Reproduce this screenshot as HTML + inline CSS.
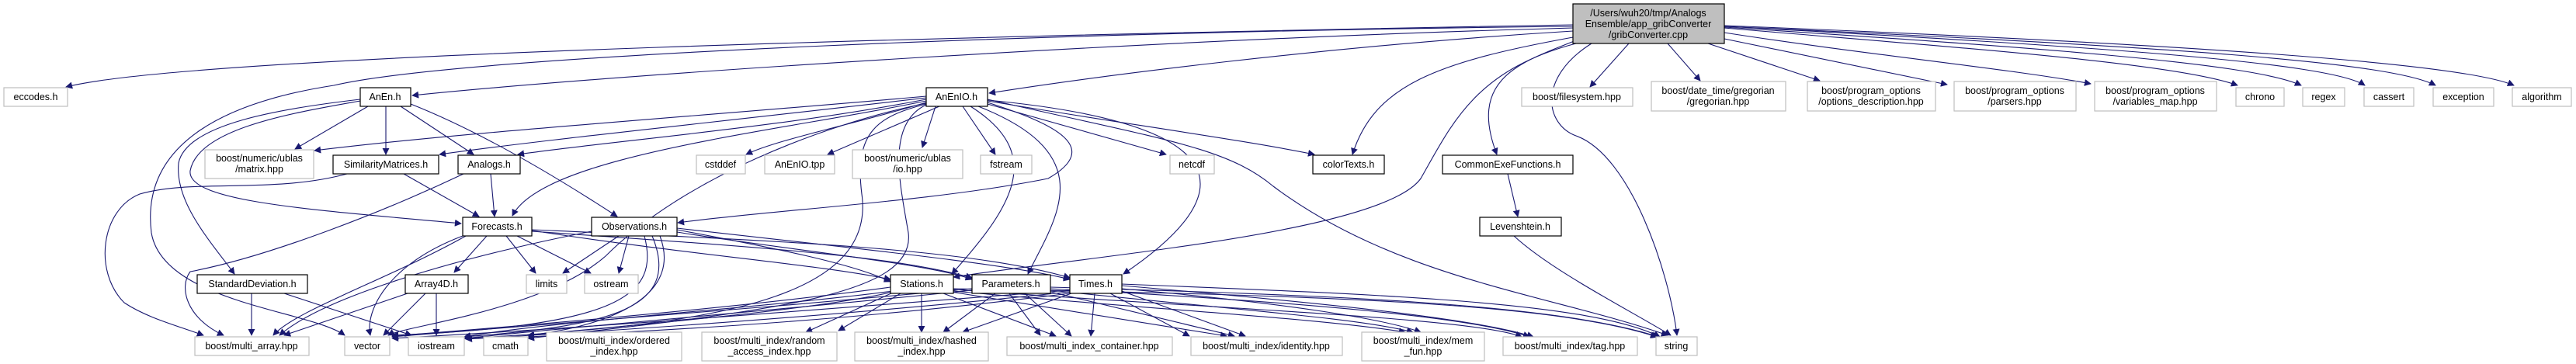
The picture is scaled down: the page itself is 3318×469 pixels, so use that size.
<!DOCTYPE html>
<html><head><meta charset="utf-8"><style>
html,body{margin:0;padding:0;background:#fff;}
svg{display:block;}
text{font-family:"Liberation Sans",Arial,sans-serif;font-size:12.5px;fill:#000;text-anchor:middle;}
.e{fill:none;stroke:#191970;stroke-width:1.1;marker-end:url(#a);}
.x{fill:#fff;stroke:#bfbfbf;stroke-width:1.2;}
.p{fill:#fff;stroke:#000;stroke-width:1.2;}
.m{fill:#bfbfbf;stroke:#000;stroke-width:1.2;}
</style></head><body>
<svg width="3318" height="469" viewBox="0 0 3318 469" xmlns="http://www.w3.org/2000/svg">
<defs><marker id="a" viewBox="0 0 10 10" refX="9" refY="5" markerWidth="9" markerHeight="9" orient="auto" markerUnits="userSpaceOnUse"><path d="M0,0 L10,5 L0,10 z" fill="#191970"/></marker></defs>

<!-- edges from main -->
<path class="e" d="M2026,32 C1300,45 250,70 85,112"/>
<path class="e" d="M2026,34 C1400,40 600,70 430,110 C300,130 180,180 195,300 C210,390 400,400 444,432"/>
<path class="e" d="M2026,36 C1500,50 800,95 531,123"/>
<path class="e" d="M2026,40 C1700,60 1400,100 1274,120"/>
<path class="e" d="M2026,48 C1850,80 1770,110 1742,199"/>
<path class="e" d="M2030,52 C1960,80 1890,100 1928,199"/>
<path class="e" d="M2030,56 C1900,90 1870,160 1830,230 C1780,300 1400,330 1228,357"/>
<path class="e" d="M2050,56 C1980,100 1990,160 2030,175 C2100,200 2150,350 2160,432"/>
<path class="e" d="M2098,56 L2048,112"/>
<path class="e" d="M2148,56 L2190,104"/>
<path class="e" d="M2200,56 L2344,104"/>
<path class="e" d="M2221,50 L2508,109"/>
<path class="e" d="M2221,42 C2400,70 2600,90 2693,108"/>
<path class="e" d="M2221,36 C2500,60 2800,80 2882,110"/>
<path class="e" d="M2221,35 C2600,60 2900,80 2964,110"/>
<path class="e" d="M2221,34 C2700,60 3000,80 3046,110"/>
<path class="e" d="M2221,34 C2800,60 3080,80 3137,110"/>
<path class="e" d="M2221,33 C2900,60 3180,85 3238,110"/>

<!-- AnEn.h -->
<path class="e" d="M474,137 L380,192"/>
<path class="e" d="M497,137 L497,199"/>
<path class="e" d="M516,137 L610,199"/>
<path class="e" d="M529,134 C620,170 720,230 795,279"/>
<path class="e" d="M464,128 C360,140 240,160 230,210 C225,260 270,310 302,353"/>
<path class="e" d="M464,130 C380,145 255,165 245,220 C240,260 400,270 594,288"/>

<!-- AnEnIO.h -->
<path class="e" d="M1193,124 C900,150 600,170 405,194"/>
<path class="e" d="M1193,126 C900,160 700,180 566,199"/>
<path class="e" d="M1193,128 C1000,165 800,180 667,199"/>
<path class="e" d="M1193,130 C1000,170 700,200 660,278"/>
<path class="e" d="M1193,132 C1100,160 1000,180 961,199"/>
<path class="e" d="M1210,137 L1066,199"/>
<path class="e" d="M1205,137 L1188,190"/>
<path class="e" d="M1240,137 L1282,199"/>
<path class="e" d="M1272,134 L1502,199"/>
<path class="e" d="M1272,130 C1450,160 1600,180 1693,199"/>
<path class="e" d="M1272,128 C1500,180 1580,190 1640,240 C1800,360 2000,380 2148,432"/>
<path class="e" d="M1272,132 C1360,160 1420,190 1350,230 C1200,260 1000,270 873,287"/>
<path class="e" d="M1250,137 C1350,200 1300,270 1226,353"/>
<path class="e" d="M1260,137 C1420,200 1360,280 1324,353"/>
<path class="e" d="M1272,129 C1600,160 1600,250 1447,353"/>
<path class="e" d="M1193,133 C1060,160 880,230 780,330 C700,400 520,420 500,432"/>
<path class="e" d="M1193,134 C1130,150 1100,170 1110,250 C1130,390 900,420 598,436"/>
<path class="e" d="M1193,135 C1140,160 1160,240 1170,300 C1180,380 1000,400 680,436"/>

<!-- SimilarityMatrices, Analogs -->
<path class="e" d="M447,224 C350,250 250,230 180,250 C130,270 120,350 160,390 C190,410 230,420 262,432"/>
<path class="e" d="M520,224 L617,279"/>
<path class="e" d="M597,224 C500,270 350,330 245,350 C230,370 240,410 288,432"/>
<path class="e" d="M632,224 L637,279"/>

<!-- Forecasts -->
<path class="e" d="M627,304 L585,351"/>
<path class="e" d="M596,304 C500,340 470,400 477,432"/>
<path class="e" d="M652,304 L690,352"/>
<path class="e" d="M666,304 L761,352"/>
<path class="e" d="M685,297 C900,330 1050,340 1147,360"/>
<path class="e" d="M685,298 C1000,320 1150,330 1252,358"/>
<path class="e" d="M685,296 C1000,310 1250,320 1378,358"/>
<path class="e" d="M600,304 C500,360 380,400 352,432"/>

<!-- Observations -->
<path class="e" d="M797,304 L725,352"/>
<path class="e" d="M810,304 L797,352"/>
<path class="e" d="M762,298 C600,330 420,380 360,432"/>
<path class="e" d="M830,304 C850,380 800,420 505,432"/>
<path class="e" d="M840,304 C880,400 780,420 598,434"/>
<path class="e" d="M850,304 C890,410 700,430 680,432"/>
<path class="e" d="M872,296 C1000,320 1100,340 1147,363"/>
<path class="e" d="M872,299 C1000,320 1200,340 1252,360"/>
<path class="e" d="M872,294 C1100,320 1300,340 1378,360"/>

<!-- StandardDeviation, Array4D -->
<path class="e" d="M324,378 L324,432"/>
<path class="e" d="M366,378 L530,432"/>
<path class="e" d="M525,378 L366,432"/>
<path class="e" d="M548,378 L494,432"/>
<path class="e" d="M562,378 L562,432"/>

<!-- Stations/Parameters/Times -->
<path class="e" d="M1147,370 C1000,390 800,410 505,433"/>
<path class="e" d="M1150,375 C1000,395 700,415 598,434"/>
<path class="e" d="M1150,376 C1050,400 800,420 680,432"/>
<path class="e" d="M1160,378 L1080,426"/>
<path class="e" d="M1150,377 L1038,428"/>
<path class="e" d="M1187,378 L1187,428"/>
<path class="e" d="M1215,378 L1360,433"/>
<path class="e" d="M1225,376 L1580,433"/>
<path class="e" d="M1228,375 C1500,400 1700,410 1810,428"/>
<path class="e" d="M1228,373 C1600,400 1900,410 1960,434"/>
<path class="e" d="M1228,372 C1700,380 2000,390 2134,434"/>
<path class="e" d="M1252,372 C1000,395 700,420 505,434"/>
<path class="e" d="M1252,374 C1000,400 750,420 598,436"/>
<path class="e" d="M1282,378 L1215,428"/>
<path class="e" d="M1300,378 L1340,432"/>
<path class="e" d="M1320,378 L1380,433"/>
<path class="e" d="M1353,376 L1590,433"/>
<path class="e" d="M1353,374 C1600,400 1750,410 1820,428"/>
<path class="e" d="M1353,372 C1700,390 1900,410 1970,434"/>
<path class="e" d="M1353,370 C1700,380 2000,390 2136,434"/>
<path class="e" d="M1378,374 C1100,395 800,420 505,436"/>
<path class="e" d="M1378,376 C1150,400 900,420 600,437"/>
<path class="e" d="M1378,378 C1200,400 1000,420 680,434"/>
<path class="e" d="M1380,378 L1240,428"/>
<path class="e" d="M1410,378 L1405,433"/>
<path class="e" d="M1430,378 L1532,433"/>
<path class="e" d="M1445,375 L1604,433"/>
<path class="e" d="M1445,372 C1650,390 1780,410 1830,428"/>
<path class="e" d="M1445,368 C1700,390 1900,410 1975,434"/>
<path class="e" d="M1445,366 C1800,380 2050,390 2138,434"/>
<path class="e" d="M1942,224 L1955,279"/>
<path class="e" d="M1950,304 C2000,350 2100,400 2152,432"/>

<!-- nodes -->
<rect class="m" x="2026" y="5" width="195" height="51"/>
<text x="2123" y="21">/Users/wuh20/tmp/Analogs</text>
<text x="2123" y="35">Ensemble/app_gribConverter</text>
<text x="2123" y="49">/gribConverter.cpp</text>

<rect class="x" x="5" y="113" width="82" height="24"/><text x="46" y="129">eccodes.h</text>
<rect class="p" x="464" y="113" width="65" height="24"/><text x="496" y="129">AnEn.h</text>
<rect class="p" x="1193" y="113" width="79" height="24"/><text x="1232" y="129">AnEnIO.h</text>
<rect class="x" x="1960" y="113" width="143" height="24"/><text x="2031" y="129">boost/filesystem.hpp</text>
<rect class="x" x="2127" y="105" width="173" height="38"/><text x="2213" y="121">boost/date_time/gregorian</text><text x="2213" y="135">/gregorian.hpp</text>
<rect class="x" x="2328" y="105" width="165" height="38"/><text x="2410" y="121">boost/program_options</text><text x="2410" y="135">/options_description.hpp</text>
<rect class="x" x="2517" y="105" width="157" height="38"/><text x="2595" y="121">boost/program_options</text><text x="2595" y="135">/parsers.hpp</text>
<rect class="x" x="2698" y="105" width="157" height="38"/><text x="2776" y="121">boost/program_options</text><text x="2776" y="135">/variables_map.hpp</text>
<rect class="x" x="2880" y="113" width="62" height="24"/><text x="2911" y="129">chrono</text>
<rect class="x" x="2966" y="113" width="54" height="24"/><text x="2993" y="129">regex</text>
<rect class="x" x="3045" y="113" width="64" height="24"/><text x="3077" y="129">cassert</text>
<rect class="x" x="3134" y="113" width="78" height="24"/><text x="3173" y="129">exception</text>
<rect class="x" x="3236" y="113" width="76" height="24"/><text x="3274" y="129">algorithm</text>

<rect class="x" x="264" y="193" width="140" height="37"/><text x="334" y="208">boost/numeric/ublas</text><text x="334" y="222">/matrix.hpp</text>
<rect class="p" x="429" y="200" width="136" height="24"/><text x="497" y="216">SimilarityMatrices.h</text>
<rect class="p" x="590" y="200" width="80" height="24"/><text x="630" y="216">Analogs.h</text>
<rect class="x" x="897" y="200" width="63" height="24"/><text x="928" y="216">cstddef</text>
<rect class="x" x="985" y="200" width="90" height="24"/><text x="1030" y="216">AnEnIO.tpp</text>
<rect class="x" x="1098" y="193" width="142" height="37"/><text x="1169" y="208">boost/numeric/ublas</text><text x="1169" y="222">/io.hpp</text>
<rect class="x" x="1263" y="200" width="66" height="24"/><text x="1296" y="216">fstream</text>
<rect class="x" x="1507" y="200" width="57" height="24"/><text x="1535" y="216">netcdf</text>
<rect class="p" x="1691" y="200" width="92" height="24"/><text x="1737" y="216">colorTexts.h</text>
<rect class="p" x="1858" y="200" width="168" height="24"/><text x="1942" y="216">CommonExeFunctions.h</text>

<rect class="p" x="596" y="280" width="89" height="24"/><text x="640" y="296">Forecasts.h</text>
<rect class="p" x="762" y="280" width="110" height="24"/><text x="817" y="296">Observations.h</text>
<rect class="p" x="1906" y="280" width="105" height="24"/><text x="1958" y="296">Levenshtein.h</text>

<rect class="p" x="254" y="354" width="142" height="24"/><text x="325" y="370">StandardDeviation.h</text>
<rect class="p" x="522" y="354" width="81" height="24"/><text x="562" y="370">Array4D.h</text>
<rect class="x" x="678" y="354" width="52" height="24"/><text x="704" y="370">limits</text>
<rect class="x" x="753" y="354" width="69" height="24"/><text x="787" y="370">ostream</text>
<rect class="p" x="1147" y="354" width="81" height="24"/><text x="1187" y="370">Stations.h</text>
<rect class="p" x="1252" y="354" width="101" height="24"/><text x="1302" y="370">Parameters.h</text>
<rect class="p" x="1378" y="354" width="67" height="24"/><text x="1411" y="370">Times.h</text>

<rect class="x" x="251" y="434" width="147" height="24"/><text x="324" y="450">boost/multi_array.hpp</text>
<rect class="x" x="444" y="434" width="58" height="24"/><text x="473" y="450">vector</text>
<rect class="x" x="526" y="434" width="72" height="24"/><text x="562" y="450">iostream</text>
<rect class="x" x="623" y="434" width="57" height="24"/><text x="651" y="450">cmath</text>
<rect class="x" x="704" y="428" width="174" height="37"/><text x="791" y="443">boost/multi_index/ordered</text><text x="791" y="457">_index.hpp</text>
<rect class="x" x="904" y="428" width="174" height="37"/><text x="991" y="443">boost/multi_index/random</text><text x="991" y="457">_access_index.hpp</text>
<rect class="x" x="1101" y="428" width="172" height="37"/><text x="1187" y="443">boost/multi_index/hashed</text><text x="1187" y="457">_index.hpp</text>
<rect class="x" x="1297" y="434" width="213" height="24"/><text x="1403" y="450">boost/multi_index_container.hpp</text>
<rect class="x" x="1534" y="434" width="195" height="24"/><text x="1631" y="450">boost/multi_index/identity.hpp</text>
<rect class="x" x="1754" y="428" width="158" height="37"/><text x="1833" y="443">boost/multi_index/mem</text><text x="1833" y="457">_fun.hpp</text>
<rect class="x" x="1936" y="434" width="173" height="24"/><text x="2022" y="450">boost/multi_index/tag.hpp</text>
<rect class="x" x="2133" y="434" width="53" height="24"/><text x="2159" y="450">string</text>
</svg>
</body></html>
